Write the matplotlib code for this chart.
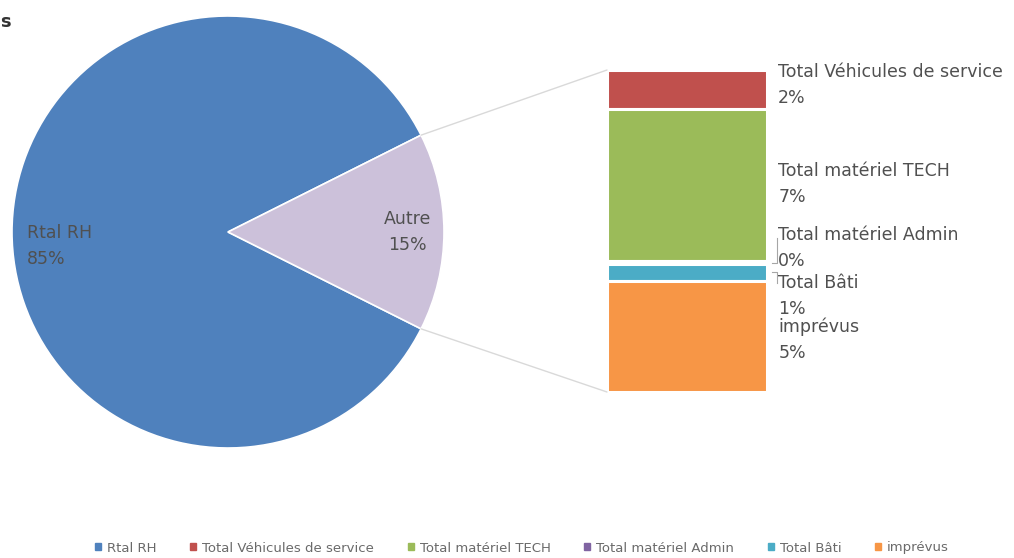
import numpy as np
import matplotlib.pyplot as plt
from matplotlib.patches import ConnectionPatch

# --- Data ---
pie_labels = ["Rtal RH", "Autre"]
detail_labels = ["Total Véhicules de service", "Total matériel TECH",
                 "Total matériel Admin", "Total Bâti", "imprévus"]
detail_values = [1.8, 7.0, 0.1, 0.8, 5.1]
rh_value = 85.2
legend_labels = ["Rtal RH"] + detail_labels

# --- Colors ---
BLUE = "#4F81BD"
LAVENDER = "#CCC1DA"
detail_colors = ["#C0504D", "#9BBB59", "#8064A2", "#4BACC6", "#F79646"]
TEXT = "#505050"

plt.rcParams['font.family'] = ['DejaVu Sans']

W, H = 1014, 558
fig = plt.figure(figsize=(W / 100, H / 100), dpi=100)


def px_axes(x0, y0, x1, y1):
    # axes box given in pixel coords (origin top-left)
    return fig.add_axes([x0 / W, 1 - y1 / H, (x1 - x0) / W, (y1 - y0) / H])


# --- Pie ---
cx, cy, r = 228, 232, 216
ax_pie = px_axes(cx - r, cy - r, cx + r, cy + r)
other = sum(detail_values)
pie_vals = [rh_value, other]
angle = -other / 100 * 360 / 2
wedges, _ = ax_pie.pie(pie_vals, colors=[BLUE, LAVENDER], startangle=angle,
                       counterclock=False, radius=1,
                       wedgeprops=dict(edgecolor="white", linewidth=1.2))
ax_pie.set_xlim(-1, 1)
ax_pie.set_ylim(-1, 1)
ax_pie.set_aspect("auto")
ax_pie.axis("off")

total = rh_value + other
ax_pie.text(-0.93, -0.065, f"{pie_labels[0]}\n{rh_value / total * 100:.0f}%",
            ha="left", va="center", fontsize=12.5, color=TEXT, linespacing=1.58)
ax_pie.text(0.83, 0.0, f"{pie_labels[1]}\n{other / total * 100:.0f}%",
            ha="center", va="center", fontsize=12.5, color=TEXT, linespacing=1.58)

# --- Stacked bar for the "Autre" slice ---
ax_bar = px_axes(607, 70, 767, 392)
bottom = other
for lab, val, col in zip(detail_labels, detail_values, detail_colors):
    bottom -= val
    ax_bar.bar(0, val, bottom=bottom, width=1, color=col,
               edgecolor="white", linewidth=2.2)
ax_bar.set_xlim(-0.5, 0.5)
ax_bar.set_ylim(0, other)
ax_bar.axis("off")

# label y positions (data units), spread out where slices are thin
label_y = [14.1, 9.55, 6.6, 4.4, 2.4]
tops = np.cumsum([0] + detail_values[:-1])
for i, (lab, val) in enumerate(zip(detail_labels, detail_values)):
    ax_bar.text(0.57, label_y[i], f"{lab}\n{val / total * 100:.0f}%",
                ha="left", va="center", fontsize=12.5, color=TEXT,
                linespacing=1.58, clip_on=False)

# short leader lines for the two thin slices
for i, y_end in [(2, 7.1), (3, 5.0)]:
    mid = other - tops[i] - detail_values[i] / 2
    ax_bar.plot([0.53, 0.56, 0.56], [mid, mid, y_end],
                color="#A6A6A6", lw=0.8, clip_on=False)

# --- Connector lines between slice and bar ---
th = np.deg2rad(other / 100 * 360 / 2)
for sgn, ybar in [(1, other), (-1, 0)]:
    con = ConnectionPatch(xyA=(np.cos(th), sgn * np.sin(th)), coordsA=ax_pie.transData,
                          xyB=(-0.5, ybar), coordsB=ax_bar.transData,
                          color="#D9D9D9", lw=1.0)
    fig.add_artist(con)

# --- Legend ---
handles = [plt.Rectangle((0, 0), 1, 1, color=c) for c in [BLUE] + detail_colors]
fig.legend(handles, legend_labels, loc="center", bbox_to_anchor=(522 / W, 1 - 548 / H),
           ncol=6, frameon=False, fontsize=9.5, handlelength=0.45, handleheight=0.45,
           handletextpad=0.45, columnspacing=2.55, labelcolor="#6a6a6a")

# partial title at top-left
fig.text(0.0, 1 - 22 / H, "s", fontsize=13, fontweight="bold", color="#333333",
         ha="left", va="center")

fig.savefig("out.png", dpi=100)
